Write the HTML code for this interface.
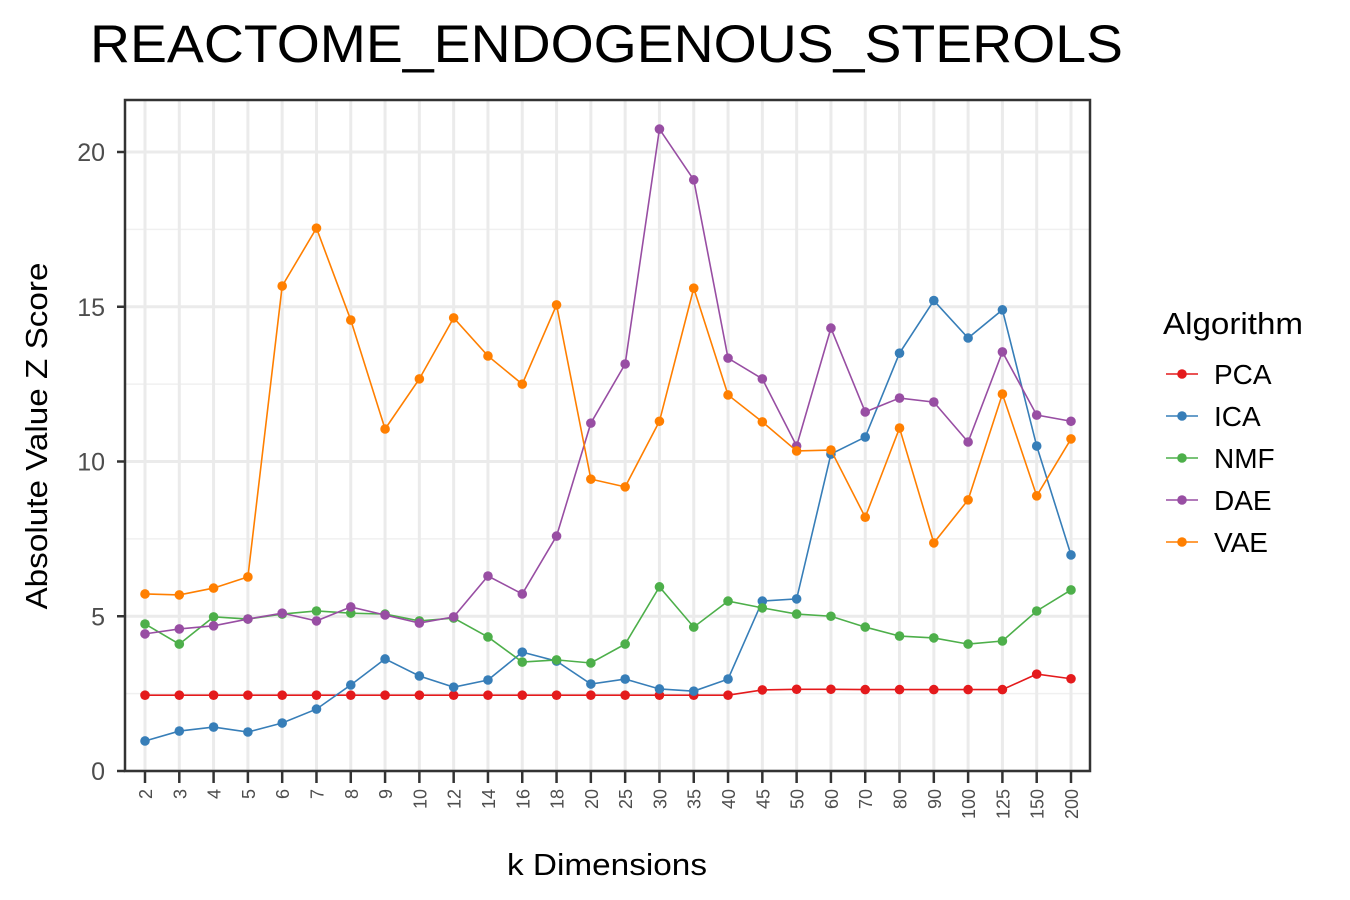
<!DOCTYPE html>
<html><head><meta charset="utf-8"><style>body{margin:0;background:#fff}svg{display:block;font-family:"Liberation Sans",Arial,sans-serif}</style></head>
<body>
<svg id="chart" width="1350" height="900" xmlns="http://www.w3.org/2000/svg">
<text x="90" y="62" font-size="53" textLength="1033" lengthAdjust="spacingAndGlyphs" fill="#000">REACTOME_ENDOGENOUS_STEROLS</text>
<g id="grid"></g><g id="series"></g><g id="axes"></g>
<text x="607" y="875" font-size="31" textLength="200" lengthAdjust="spacingAndGlyphs" text-anchor="middle">k Dimensions</text>
<text transform="translate(47,436) rotate(-90)" font-size="31" textLength="347" lengthAdjust="spacingAndGlyphs" text-anchor="middle">Absolute Value Z Score</text>
<g id="legend"><text x="1163" y="334" font-size="31" textLength="140" lengthAdjust="spacingAndGlyphs">Algorithm</text></g>
</svg>
<script>
const categories=["2","3","4","5","6","7","8","9","10","12","14","16","18","20","25","30","35","40","45","50","60","70","80","90","100","125","150","200"];
const seriesNames=["PCA","ICA","NMF","DAE","VAE"];
const seriesColors=["#e41a1c","#377eb8","#4daf4a","#984ea3","#ff7f00"];
const pca=[2.45,2.45,2.45,2.45,2.45,2.45,2.45,2.45,2.45,2.45,2.45,2.45,2.45,2.45,2.45,2.45,2.45,2.45,2.62,2.64,2.64,2.63,2.63,2.63,2.63,2.63,3.13,2.98];
const ica=[0.97,1.29,1.42,1.26,1.55,2.0,2.78,3.62,3.07,2.71,2.94,3.84,3.55,2.81,2.97,2.65,2.58,2.97,5.49,5.56,10.24,10.79,13.5,15.2,13.99,14.9,10.5,6.98];
const nmf=[4.75,4.1,4.98,4.91,5.07,5.17,5.1,5.07,4.85,4.94,4.33,3.52,3.59,3.49,4.1,5.95,4.65,5.49,5.27,5.07,5.0,4.65,4.36,4.3,4.1,4.2,5.17,5.85];
const dae=[4.43,4.59,4.69,4.91,5.1,4.85,5.3,5.04,4.78,4.98,6.3,5.72,7.59,11.24,13.15,20.74,19.1,13.34,12.67,10.5,14.31,11.6,12.05,11.92,10.63,13.54,11.5,11.3];
const vae=[5.72,5.69,5.91,6.27,15.67,17.54,14.57,11.05,12.67,14.64,13.41,12.5,15.06,9.43,9.18,11.3,15.6,12.15,11.28,10.34,10.37,8.2,11.08,7.37,8.76,12.18,8.89,10.73];
const yTicks=[0,5,10,15,20];
const NS="http://www.w3.org/2000/svg";
const L=125,R=1090,T=100,B=771;
const x=i=>145+i*(1071-145)/(categories.length-1);
const y=v=>B-v*(B-152)/20;
function mk(p,t,a){const e=document.createElementNS(NS,t);for(const k in a)e.setAttribute(k,a[k]);p.appendChild(e);return e;}
const g=document.getElementById('grid'),ax=document.getElementById('axes'),sg=document.getElementById('series');
for(let v=2.5;v<22;v+=5){const l=mk(g,'line',{x1:L,x2:R,y1:y(v),y2:y(v),stroke:'#f0f0f0','stroke-width':1.5});}
yTicks.forEach(v=>{const l=mk(g,'line',{x1:L,x2:R,y1:y(v),y2:y(v),stroke:'#ebebeb','stroke-width':3});
const t=mk(ax,'line',{x1:L-8,x2:L,y1:y(v),y2:y(v),stroke:'#333','stroke-width':2.5});
const tx=mk(ax,'text',{x:L-20,y:y(v)+9,'font-size':25,'text-anchor':'end',fill:'#4d4d4d'});tx.textContent=v;});
categories.forEach((c,i)=>{const l=mk(g,'line',{x1:x(i),x2:x(i),y1:T,y2:B,stroke:'#ebebeb','stroke-width':3});
const t=mk(ax,'line',{x1:x(i),x2:x(i),y1:B,y2:B+12,stroke:'#333','stroke-width':2.5});
const tx=mk(ax,'text',{transform:`translate(${x(i)+7},789) rotate(-90)`,'font-size':18,'text-anchor':'end',fill:'#4d4d4d'});tx.textContent=c;});
const fr=mk(ax,'rect',{x:L,y:T,width:R-L,height:B-T,fill:'none',stroke:'#333','stroke-width':2.5});
const all=[pca,ica,nmf,dae,vae];
all.forEach((d,s)=>{const pl=mk(sg,'polyline',{points:d.map((v,i)=>x(i)+','+y(v)).join(' '),fill:'none',stroke:seriesColors[s],'stroke-width':1.6});
d.forEach((v,i)=>{const c=mk(sg,'circle',{cx:x(i),cy:y(v),r:4.8,fill:seriesColors[s]});});});
const lg=document.getElementById('legend');
seriesNames.forEach((n,s)=>{const yy=374+s*42;const l=mk(lg,'line',{x1:1166,x2:1198,y1:yy,y2:yy,stroke:seriesColors[s],'stroke-width':1.6});
const c=mk(lg,'circle',{cx:1182,cy:yy,r:4.8,fill:seriesColors[s]});
const t=mk(lg,'text',{x:1214,y:yy+10,'font-size':28});t.textContent=n;});
</script>
</body></html>
